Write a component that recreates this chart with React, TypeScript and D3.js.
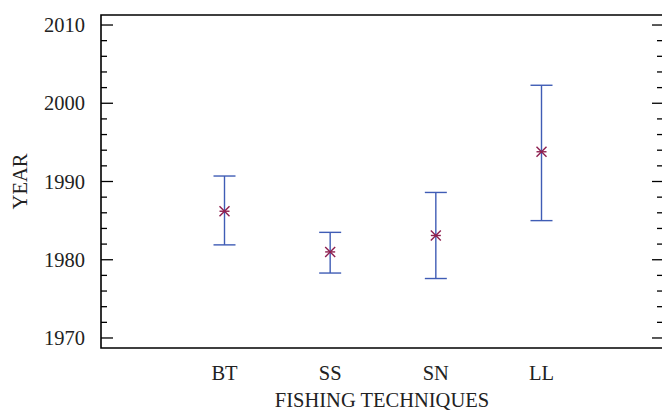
import React from "react";
import * as d3 from "d3";

const categories = ["BT", "SS", "SN", "LL"];
const means = [1986.2, 1981.0, 1983.1, 1993.8];
const lows = [1981.9, 1978.3, 1977.6, 1985.0];
const highs = [1990.7, 1983.5, 1988.6, 2002.3];
const yTicks = [1970, 1980, 1990, 2000, 2010];

const W = 662, H = 411;
const left = 101, top = 15, bottom = 348, right = 663;

export default function App() {
  const y = d3.scaleLinear().domain([1968.72, 2011.28]).range([bottom, top]);
  const x = d3.scaleLinear().domain([1, 4]).range([224.5, 541.5]);
  const minor = d3.range(1970, 2011, 2).filter((v) => v % 10 !== 0);
  const ts = { fontFamily: "Liberation Serif, Times New Roman, Times, serif", fontSize: "20.5px" };
  const ebColor = "#3f5cb5";
  const mColor = "#8e1f4f";
  const cap = 11;
  const m = 5;
  return (
    <svg width={W} height={H} style={{ position: "absolute", left: 0, top: 0 }}>
      <rect x={0} y={0} width={W} height={H} fill="#fff" />
      <path d={`M${right},${top}H${left}V${bottom}H${right}`} fill="none" stroke="#000" strokeWidth={1.6} />
      {yTicks.map((v) => (
        <g key={v}>
          <line x1={left} x2={left + 12} y1={y(v)} y2={y(v)} stroke="#000" strokeWidth={1.3} />
          <line x1={652} x2={right} y1={y(v)} y2={y(v)} stroke="#000" strokeWidth={1.3} />
          <text x={85} y={y(v) + 7} textAnchor="end" style={ts} fill="#222">{v}</text>
        </g>
      ))}
      {minor.map((v) => (
        <g key={v}>
          <line x1={left} x2={left + 6} y1={y(v)} y2={y(v)} stroke="#000" strokeWidth={1.3} />
          <line x1={657} x2={right} y1={y(v)} y2={y(v)} stroke="#000" strokeWidth={1.3} />
        </g>
      ))}
      {categories.map((c, i) => {
        const cx = x(i + 1);
        return (
          <g key={c}>
            <line x1={cx} x2={cx} y1={y(highs[i])} y2={y(lows[i])} stroke={ebColor} strokeWidth={1.4} />
            <line x1={cx - cap} x2={cx + cap} y1={y(highs[i])} y2={y(highs[i])} stroke={ebColor} strokeWidth={1.4} />
            <line x1={cx - cap} x2={cx + cap} y1={y(lows[i])} y2={y(lows[i])} stroke={ebColor} strokeWidth={1.4} />
            <g stroke={mColor} strokeWidth={1.4}>
              <line x1={cx - m} x2={cx + m} y1={y(means[i]) - m} y2={y(means[i]) + m} />
              <line x1={cx - m} x2={cx + m} y1={y(means[i]) + m} y2={y(means[i]) - m} />
              <line x1={cx - m} x2={cx + m} y1={y(means[i])} y2={y(means[i])} />
            </g>
            <text x={cx} y={380} textAnchor="middle" style={ts} fill="#222">{c}</text>
          </g>
        );
      })}
      <text x={382} y={406.5} textAnchor="middle" style={ts} fill="#222">FISHING TECHNIQUES</text>
      <text transform={`translate(27,181.5) rotate(-90)`} textAnchor="middle" style={ts} fill="#222">YEAR</text>
    </svg>
  );
}
